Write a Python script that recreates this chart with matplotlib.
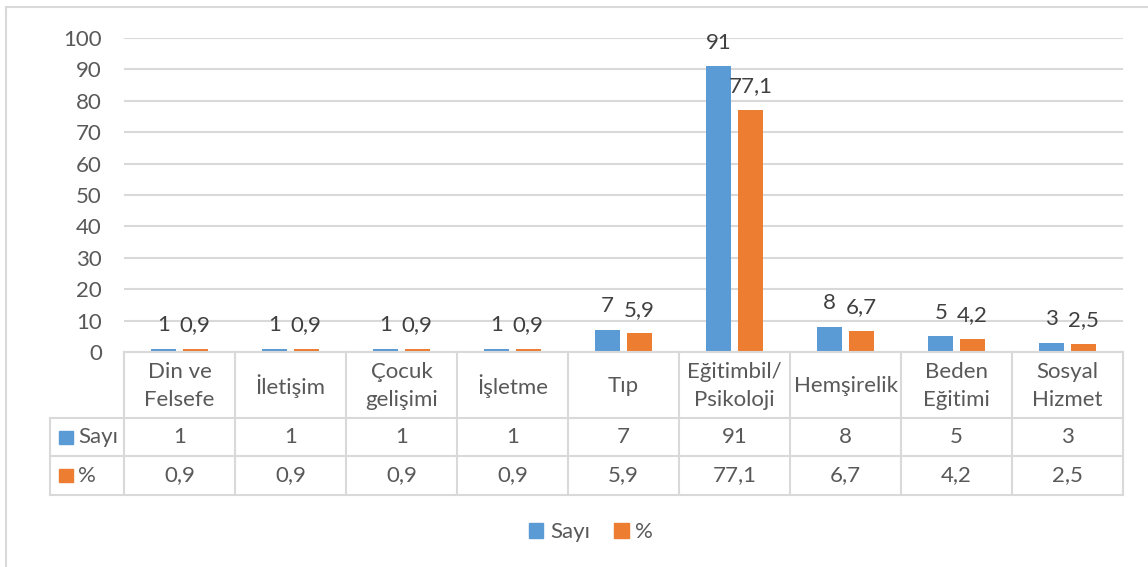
import numpy as np
import matplotlib.pyplot as plt
from matplotlib.patches import Rectangle, Patch
from matplotlib.lines import Line2D
from matplotlib.transforms import blended_transform_factory

categories = ['Din ve\nFelsefe', 'İletişim', 'Çocuk\ngelişimi', 'İşletme', 'Tıp',
              'Eğitimbil/\nPsikoloji', 'Hemşirelik', 'Beden\nEğitimi', 'Sosyal\nHizmet']
sayi = [1, 1, 1, 1, 7, 91, 8, 5, 3]
yuzde = [0.9, 0.9, 0.9, 0.9, 5.9, 77.1, 6.7, 4.2, 2.5]
sayi_lbl = ['1', '1', '1', '1', '7', '91', '8', '5', '3']
yuzde_lbl = ['0,9', '0,9', '0,9', '0,9', '5,9', '77,1', '6,7', '4,2', '2,5']
series = ['Sayı', '%']

blue = '#5B9BD5'
orange = '#ED7D31'
txt = '#595959'
grid = '#D9D9D9'
fs = 16

plt.rcParams['font.family'] = ['Lato', 'DejaVu Sans']

W, H = 1148, 567
fig = plt.figure(figsize=(W/100, H/100), dpi=100)

def fx(px):
    return px / W

def fy(py):
    return 1 - py / H

# plot area
ax = fig.add_axes([fx(124), fy(352), fx(1123) - fx(124), fy(38) - fy(352)])
n = len(categories)
x = np.arange(n) + 0.5
bw = 0.225
off = 0.142
b1 = ax.bar(x - off, sayi, bw, color=blue, zorder=3)
b2 = ax.bar(x + off, yuzde, bw, color=orange, zorder=3)

for rect, lab in zip(b1, sayi_lbl):
    ax.annotate(lab, (rect.get_x() + rect.get_width()/2, rect.get_height()),
                xytext=(0, 17), textcoords='offset points', ha='center', va='center',
                fontsize=fs, color='#404040')
for rect, lab in zip(b2, yuzde_lbl):
    ax.annotate(lab, (rect.get_x() + rect.get_width()/2, rect.get_height()),
                xytext=(0, 17), textcoords='offset points', ha='center', va='center',
                fontsize=fs, color='#404040')

ax.set_xlim(0, n)
ax.set_ylim(0, 100)
ax.set_yticks(np.arange(0, 101, 10))
ax.set_xticks([])
ax.tick_params(axis='y', length=0, pad=16, labelsize=fs, labelcolor=txt)
for s in ax.spines.values():
    s.set_visible(False)
ax.yaxis.grid(True, color=grid, lw=1.5, zorder=0)
ax.set_axisbelow(True)

# data table below the chart
tr = blended_transform_factory(ax.transData, fig.transFigure)
lw = 1.5
x_left = (50 - 124) / 111.0
rows = [352, 418, 456, 495]
fig.add_artist(Line2D([0, n], [fy(352), fy(352)], transform=tr, color=grid, lw=lw))
for r in rows[1:]:
    fig.add_artist(Line2D([x_left, n], [fy(r), fy(r)], transform=tr, color=grid, lw=lw))
fig.add_artist(Line2D([x_left, x_left], [fy(418), fy(495)], transform=tr, color=grid, lw=lw))
for i in range(n + 1):
    fig.add_artist(Line2D([i, i], [fy(352), fy(495)], transform=tr, color=grid, lw=lw))

for i in range(n):
    fig.text(x[i], fy(386), categories[i], transform=tr, ha='center', va='center',
             fontsize=fs, color=txt, linespacing=1.55)
    fig.text(x[i], fy(437), sayi_lbl[i], transform=tr, ha='center', va='center',
             fontsize=fs, color=txt)
    fig.text(x[i], fy(475.5), yuzde_lbl[i], transform=tr, ha='center', va='center',
             fontsize=fs, color=txt)

for row_y, name, col in [(437, series[0], blue), (475.5, series[1], orange)]:
    fig.add_artist(Rectangle((fx(59), fy(row_y + 6.5)), fx(14), 13/H,
                             transform=fig.transFigure, color=col))
    fig.text(fx(78), fy(row_y), name, ha='left', va='center', fontsize=fs, color=txt)

# legend
handles = [Patch(color=blue), Patch(color=orange)]
fig.legend(handles, series, loc='center', bbox_to_anchor=(fx(591), fy(532)),
           ncol=2, frameon=False, fontsize=fs, labelcolor=txt,
           handlelength=0.65, handleheight=0.65, handletextpad=0.3, columnspacing=1.1)

# chart border (only top and left visible)
fig.add_artist(Line2D([fx(6), 1], [fy(7), fy(7)], color=grid, lw=1.5))
fig.add_artist(Line2D([fx(6), fx(6)], [fy(7), 0], color=grid, lw=1.5))

fig.savefig('out.png', dpi=100)
